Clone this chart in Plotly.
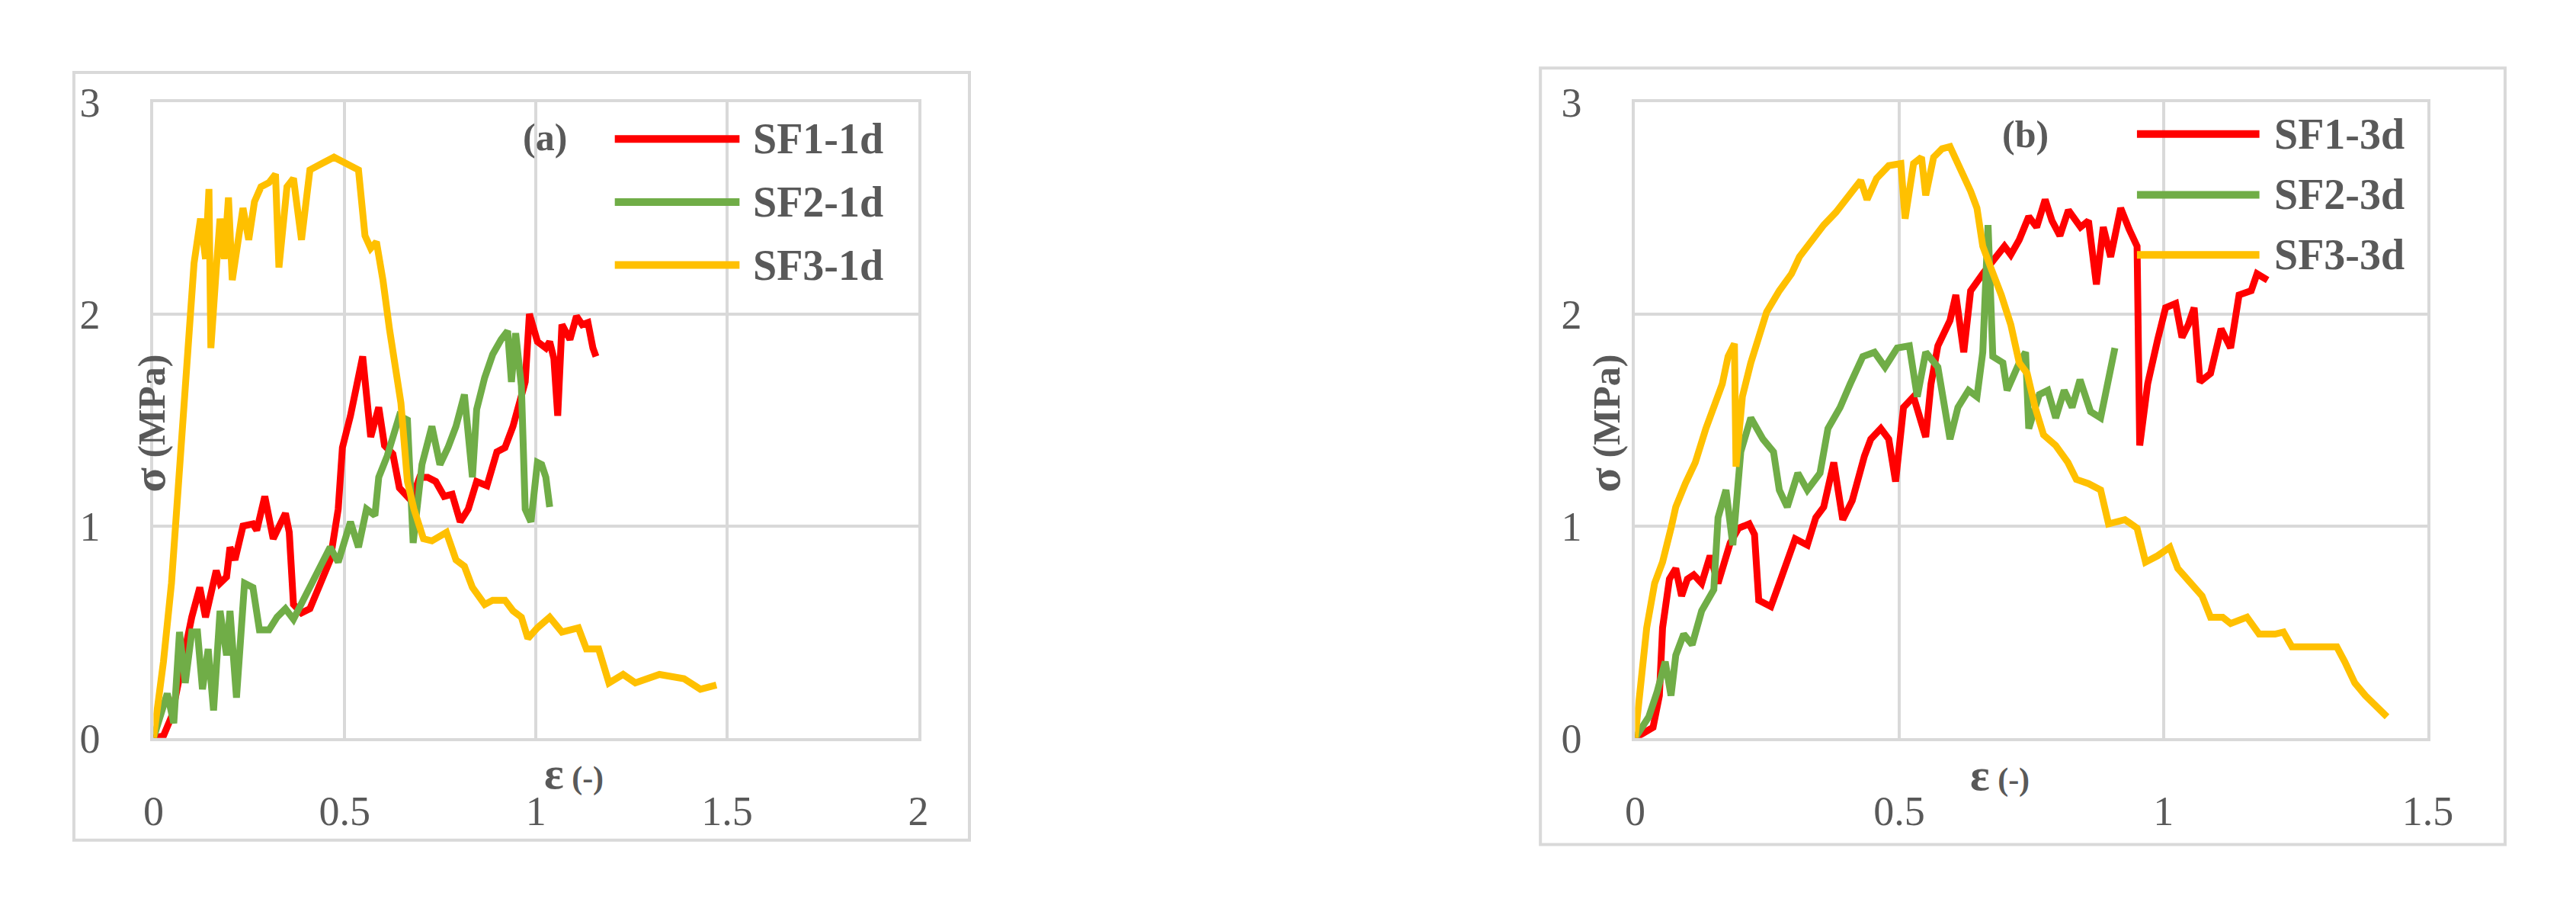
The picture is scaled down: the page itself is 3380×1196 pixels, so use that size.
import plotly.graph_objects as go

W, H = 3380, 1196
# ---------------- data (a) ----------------
a_sf1_x = [0,0.026,0.047,0.079,0.10,0.121,0.136,0.164,0.174,0.191,0.20,0.213,0.234,0.26,0.27,0.291,0.313,0.345,0.355,0.366,0.387,0.409,0.434,0.462,0.483,0.494,0.515,0.547,0.568,0.589,0.604,0.626,0.643,0.674,0.696,0.717,0.738,0.760,0.781,0.802,0.823,0.845,0.872,0.898,0.919,0.940,0.972,0.983,1.004,1.026,1.036,1.047,1.057,1.068,1.089,1.106,1.121,1.136,1.149,1.157]
a_sf1_y = [0,0.01,0.10,0.39,0.57,0.71,0.57,0.79,0.73,0.76,0.90,0.84,1.00,1.01,0.98,1.14,0.94,1.06,0.97,0.63,0.59,0.61,0.71,0.84,1.08,1.37,1.52,1.80,1.42,1.56,1.38,1.34,1.18,1.12,1.23,1.23,1.21,1.14,1.15,1.02,1.08,1.21,1.19,1.35,1.37,1.47,1.68,2.00,1.87,1.84,1.87,1.79,1.52,1.95,1.88,1.99,1.95,1.96,1.84,1.80]
a_sf2_x = [0,0.036,0.053,0.068,0.083,0.10,0.115,0.128,0.143,0.157,0.174,0.191,0.20,0.217,0.238,0.26,0.277,0.302,0.323,0.345,0.366,0.398,0.43,0.462,0.483,0.515,0.536,0.557,0.579,0.589,0.611,0.643,0.664,0.679,0.702,0.728,0.749,0.770,0.791,0.813,0.834,0.845,0.866,0.887,0.909,0.926,0.936,0.947,0.962,0.972,0.987,1.004,1.015,1.026,1.036]
a_sf2_y = [0,0.21,0.07,0.50,0.26,0.50,0.50,0.23,0.42,0.13,0.60,0.39,0.60,0.19,0.73,0.71,0.51,0.51,0.57,0.61,0.56,0.67,0.79,0.90,0.83,1.02,0.90,1.08,1.05,1.23,1.33,1.52,1.50,0.92,1.29,1.47,1.29,1.37,1.47,1.62,1.23,1.55,1.70,1.81,1.88,1.92,1.68,1.91,1.66,1.08,1.02,1.30,1.29,1.23,1.09]
a_sf3_x = [0,0.026,0.047,0.068,0.089,0.106,0.123,0.136,0.145,0.15,0.164,0.174,0.185,0.196,0.206,0.221,0.234,0.249,0.264,0.281,0.302,0.319,0.328,0.349,0.366,0.387,0.409,0.440,0.472,0.504,0.536,0.553,0.568,0.583,0.60,0.617,0.632,0.647,0.664,0.681,0.706,0.728,0.766,0.791,0.813,0.834,0.866,0.887,0.919,0.94,0.962,0.979,1.004,1.036,1.068,1.111,1.132,1.164,1.191,1.228,1.26,1.323,1.387,1.43,1.472]
a_sf3_y = [0,0.36,0.73,1.26,1.79,2.24,2.45,2.26,2.59,1.84,2.21,2.45,2.26,2.55,2.16,2.34,2.50,2.35,2.53,2.60,2.62,2.66,2.22,2.60,2.64,2.35,2.68,2.71,2.74,2.71,2.68,2.37,2.31,2.34,2.16,1.93,1.73,1.58,1.21,1.08,0.94,0.93,0.97,0.84,0.81,0.71,0.63,0.65,0.65,0.60,0.57,0.47,0.52,0.57,0.50,0.52,0.42,0.42,0.26,0.30,0.26,0.30,0.28,0.23,0.25]
# ---------------- data (b) ----------------
b_sf1_x = [0,0.034,0.046,0.052,0.065,0.077,0.088,0.099,0.111,0.126,0.142,0.157,0.18,0.196,0.216,0.226,0.234,0.257,0.273,0.288,0.303,0.326,0.342,0.357,0.376,0.393,0.411,0.434,0.446,0.465,0.48,0.493,0.508,0.527,0.55,0.56,0.573,0.596,0.607,0.622,0.635,0.658,0.681,0.699,0.711,0.727,0.745,0.76,0.776,0.789,0.804,0.82,0.843,0.858,0.873,0.886,0.9,0.919,0.935,0.95,0.955,0.97,0.989,1.004,1.023,1.035,1.047,1.058,1.069,1.089,1.109,1.127,1.143,1.166,1.177,1.197]
b_sf1_y = [0,0.05,0.20,0.52,0.75,0.80,0.67,0.75,0.77,0.73,0.86,0.73,0.92,0.99,1.01,0.96,0.65,0.62,0.73,0.83,0.94,0.91,1.04,1.09,1.30,1.03,1.12,1.33,1.41,1.46,1.41,1.21,1.56,1.61,1.42,1.67,1.85,1.97,2.09,1.82,2.11,2.19,2.27,2.32,2.28,2.35,2.46,2.41,2.54,2.44,2.37,2.49,2.41,2.44,2.14,2.41,2.27,2.50,2.40,2.32,1.38,1.67,1.88,2.03,2.05,1.89,1.95,2.03,1.68,1.72,1.93,1.84,2.09,2.11,2.19,2.16]
b_sf2_x = [0,0.026,0.042,0.057,0.068,0.077,0.092,0.108,0.126,0.149,0.157,0.172,0.185,0.20,0.219,0.242,0.262,0.273,0.288,0.308,0.326,0.35,0.365,0.388,0.407,0.431,0.453,0.473,0.496,0.519,0.534,0.55,0.573,0.596,0.611,0.631,0.647,0.658,0.668,0.677,0.696,0.704,0.727,0.739,0.745,0.765,0.781,0.796,0.812,0.827,0.842,0.862,0.881,0.896,0.908]
b_sf2_y = [0,0.10,0.22,0.36,0.20,0.39,0.49,0.44,0.60,0.70,1.04,1.17,0.91,1.35,1.51,1.41,1.35,1.17,1.09,1.25,1.17,1.25,1.46,1.56,1.67,1.80,1.82,1.75,1.84,1.85,1.61,1.82,1.75,1.41,1.56,1.64,1.61,1.82,2.42,1.80,1.77,1.64,1.77,1.82,1.46,1.62,1.64,1.51,1.64,1.56,1.69,1.54,1.51,1.69,1.84]
b_sf3_x = [0,0.011,0.022,0.037,0.052,0.068,0.077,0.095,0.114,0.134,0.149,0.165,0.176,0.188,0.191,0.203,0.219,0.234,0.249,0.273,0.296,0.311,0.334,0.357,0.38,0.404,0.427,0.439,0.457,0.48,0.503,0.511,0.527,0.542,0.55,0.565,0.581,0.596,0.612,0.635,0.647,0.658,0.673,0.693,0.711,0.727,0.742,0.757,0.773,0.796,0.819,0.835,0.858,0.881,0.896,0.927,0.95,0.966,0.989,1.012,1.027,1.05,1.073,1.089,1.112,1.127,1.158,1.181,1.211,1.227,1.243,1.281,1.328,1.343,1.362,1.382,1.405,1.423]
b_sf3_y = [0,0.26,0.52,0.73,0.83,0.99,1.09,1.20,1.30,1.46,1.56,1.67,1.80,1.86,1.28,1.61,1.77,1.90,2.01,2.11,2.19,2.27,2.35,2.42,2.48,2.56,2.63,2.54,2.64,2.70,2.71,2.45,2.71,2.74,2.56,2.74,2.78,2.79,2.71,2.58,2.50,2.32,2.22,2.09,1.95,1.77,1.72,1.56,1.43,1.38,1.30,1.22,1.20,1.17,1.01,1.03,0.99,0.83,0.86,0.90,0.80,0.73,0.67,0.57,0.57,0.54,0.57,0.49,0.49,0.50,0.43,0.43,0.43,0.36,0.26,0.20,0.14,0.10]

names_a = ["SF1-1d", "SF2-1d", "SF3-1d"]
names_b = ["SF1-3d", "SF2-3d", "SF3-3d"]
colors = ["#ff0000", "#70ad47", "#ffc000"]
xticks_a = [0, 0.5, 1, 1.5, 2]
xticks_b = [0, 0.5, 1, 1.5]
yticks = [0, 1, 2, 3]

GRAY = "#d9d9d9"
TXT = "#595959"
FONT = "Liberation Serif"

fig = go.Figure()
series_a = [(a_sf1_x, a_sf1_y), (a_sf2_x, a_sf2_y), (a_sf3_x, a_sf3_y)]
series_b = [(b_sf1_x, b_sf1_y), (b_sf2_x, b_sf2_y), (b_sf3_x, b_sf3_y)]
for (x, y), n, c in zip(series_a, names_a, colors):
    fig.add_trace(go.Scatter(x=x, y=y, name=n, mode="lines", line=dict(color=c, width=9),
                             xaxis="x", yaxis="y", showlegend=False))
for (x, y), n, c in zip(series_b, names_b, colors):
    fig.add_trace(go.Scatter(x=x, y=y, name=n, mode="lines", line=dict(color=c, width=9),
                             xaxis="x2", yaxis="y2", showlegend=False))

def px(v): return v / W
def py(v): return 1 - v / H

tickfont = dict(family=FONT, size=54, color=TXT)
axcommon = dict(showgrid=True, gridcolor=GRAY, gridwidth=4, showline=True, linecolor=GRAY,
                linewidth=4, mirror=True, zeroline=False, tickfont=tickfont, ticks="")
ydom = [py(980), py(102)]
fig.update_layout(
    width=W, height=H, margin=dict(l=0, r=0, t=0, b=0),
    paper_bgcolor="white", plot_bgcolor="white",
    xaxis=dict(domain=[px(182), px(1200)], range=[0, 2], tickvals=xticks_a,
               ticktext=[str(v) for v in xticks_a], ticklabelstandoff=45, anchor="y", **axcommon),
    yaxis=dict(domain=ydom, range=[0, 3], tickvals=yticks, ticklabelstandoff=55, anchor="x", **axcommon),
    xaxis2=dict(domain=[px(2154), px(3209)], range=[0, 1.5], tickvals=xticks_b,
                ticktext=[str(v) for v in xticks_b], ticklabelstandoff=45, anchor="y2", **axcommon),
    yaxis2=dict(domain=ydom, range=[0, 3], tickvals=yticks, ticklabelstandoff=55, anchor="x2", **axcommon),
)

shapes = []
# outer frames
for x0, x1, y0, y1 in [(76, 1268, 61, 1121), (2028, 3312, 55, 1127)]:
    shapes.append(dict(type="rect", xref="paper", yref="paper", x0=px(x0), x1=px(x1),
                       y0=py(y1), y1=py(y0), line=dict(color=GRAY, width=4), layer="below"))
ann = []
# legends
for (lx0, lx1, tx, ys, names) in [(796, 962, 978, [153, 240, 327], names_a),
                                  (2822, 2985, 3003, [146, 230, 313], names_b)]:
    for yy, n, c in zip(ys, names, colors):
        shapes.append(dict(type="line", xref="paper", yref="paper", x0=px(lx0), x1=px(lx1),
                           y0=py(yy), y1=py(yy), line=dict(color=c, width=10)))
        ann.append(dict(text="<b>%s</b>" % n, xref="paper", yref="paper", x=px(tx), y=py(yy),
                        xanchor="left", yanchor="middle", showarrow=False,
                        font=dict(family=FONT, size=56, color=TXT)))
# panel labels
ann.append(dict(text="<b>(a)</b>", xref="paper", yref="paper", x=px(672), y=py(119),
                showarrow=False, font=dict(family=FONT, size=50, color=TXT)))
ann.append(dict(text="<b>(b)</b>", xref="paper", yref="paper", x=px(2706), y=py(115),
                showarrow=False, font=dict(family=FONT, size=50, color=TXT)))
# axis titles
for xx in [141, 2075 + 38]:
    ann.append(dict(text="<b><span style='font-size:60px'>σ</span> (MPa)</b>", xref="paper", yref="paper",
                    x=px(xx), y=py(545), textangle=-90, showarrow=False,
                    font=dict(family=FONT, size=50, color=TXT)))
ann.append(dict(text="<b><span style='font-size:60px'>ε</span> (-)</b>", xref="paper", yref="paper",
                x=px(700), y=py(1065), showarrow=False, font=dict(family=FONT, size=42, color=TXT)))
ann.append(dict(text="<b><span style='font-size:60px'>ε</span> (-)</b>", xref="paper", yref="paper",
                x=px(2681), y=py(1068), showarrow=False, font=dict(family=FONT, size=42, color=TXT)))
fig.update_layout(shapes=shapes, annotations=ann)
fig.update_xaxes(tickfont=dict(family=FONT, size=54, color=TXT))
fig.write_html("out.html")
